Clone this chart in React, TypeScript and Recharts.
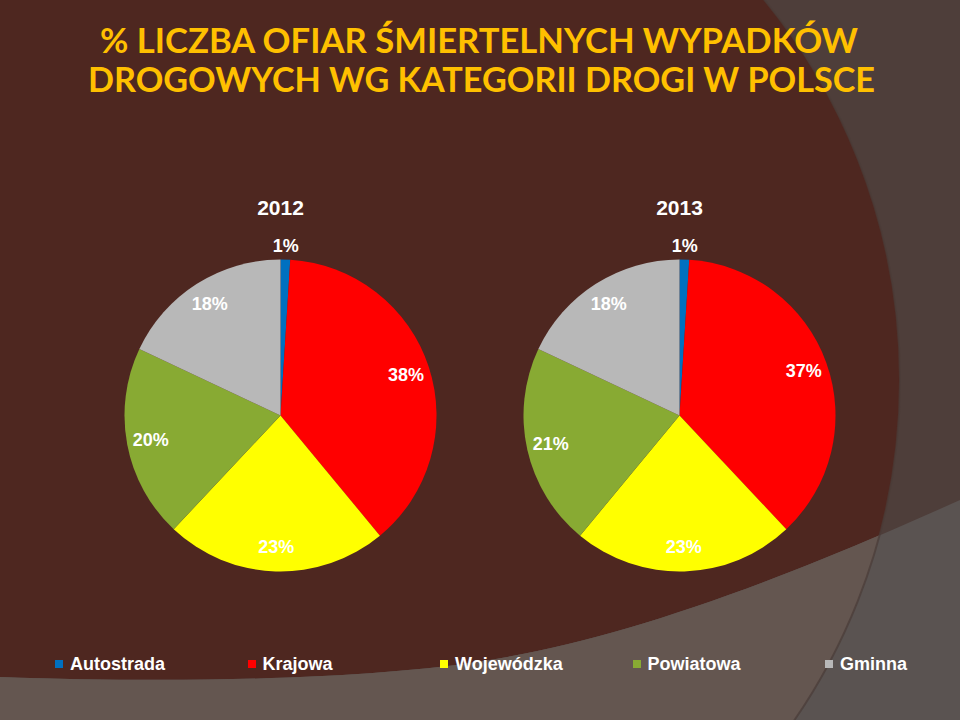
import React from 'react';
import { PieChart, Pie, Cell, Legend } from 'recharts';

const categories = ['Autostrada', 'Krajowa', 'Wojewódzka', 'Powiatowa', 'Gminna'];
const values2012 = [1, 38, 23, 20, 18];
const values2013 = [1, 37, 23, 21, 18];
const years = ['2012', '2013'];
const colors = ['#0070C0', '#FF0000', '#FFFF00', '#88AA33', '#B8B8B8'];
const titleLines = ['% LICZBA OFIAR ŚMIERTELNYCH WYPADKÓW', 'DROGOWYCH WG KATEGORII DROGI W POLSCE'];

const data2012 = categories.map((name, i) => ({ name, value: values2012[i] }));
const data2013 = categories.map((name, i) => ({ name, value: values2013[i] }));

const RAD = Math.PI / 180;
const FONT = '"Liberation Sans", Arial, sans-serif';

const renderLabel = (p: any) => {
  const { cx, cy, midAngle, outerRadius, value } = p;
  const small = value < 5;
  const r = small ? outerRadius + 14 : outerRadius - 24;
  const x = cx + r * Math.cos(-midAngle * RAD);
  const y = cy + r * Math.sin(-midAngle * RAD);
  return (
    <text x={x} y={y} fill="#FFFFFF" textAnchor="middle" dominantBaseline="central"
      fontFamily={FONT} fontWeight="bold" fontSize={18}>
      {`${value}%`}
    </text>
  );
};

const renderLegend = () => (
  <div style={{ position: 'relative', width: 960, height: 30 }}>
    {categories.map((c, i) => (
      <div key={c} style={{ position: 'absolute', left: 55 + i * 192.5, top: 0, height: 24, display: 'flex', alignItems: 'center' }}>
        <div style={{ width: 8, height: 8, background: colors[i], marginRight: 7 }} />
        <span style={{ color: '#FFFFFF', fontFamily: FONT, fontWeight: 'bold', fontSize: 18, whiteSpace: 'nowrap' }}>{c}</span>
      </div>
    ))}
  </div>
);

const bottomCurve = 'M0,677 C200,684 380,678 490,660 C620,638 760,590 960,500';

export default function App() {
  return (
    <div style={{ position: 'absolute', left: 0, top: 0, width: 960, height: 720, overflow: 'hidden' }}>
      <svg width={960} height={720} style={{ position: 'absolute', left: 0, top: 0 }}>
        <defs>
          <clipPath id="bigCircle">
            <circle cx={300} cy={380} r={600} />
          </clipPath>
        </defs>
        <rect x={0} y={0} width={960} height={720} fill="#4E3E3A" />
        <circle cx={300} cy={380} r={600} fill="#4E2720" />
        <path d={`${bottomCurve} L960,720 L0,720 Z`} fill="#5A5351" />
        <path d={`${bottomCurve} L960,720 L0,720 Z`} fill="#645650" clipPath="url(#bigCircle)" />
        <circle cx={300} cy={380} r={600} fill="none" stroke="#4A3C38" strokeWidth={2} opacity={0.7} />
        <text x={100} y={53} fill="#FFC000" fontFamily='"Comic Sans MS", Lato, sans-serif' fontWeight="bold"
          fontSize={35} textLength={758} lengthAdjust="spacingAndGlyphs">{titleLines[0]}</text>
        <text x={88} y={92} fill="#FFC000" fontFamily='"Comic Sans MS", Lato, sans-serif' fontWeight="bold"
          fontSize={35} textLength={787} lengthAdjust="spacingAndGlyphs">{titleLines[1]}</text>
        <text x={280.5} y={215} fill="#FFFFFF" textAnchor="middle" fontFamily={FONT} fontWeight="bold" fontSize={21}>{years[0]}</text>
        <text x={679.5} y={215} fill="#FFFFFF" textAnchor="middle" fontFamily={FONT} fontWeight="bold" fontSize={21}>{years[1]}</text>
      </svg>
      <div style={{ position: 'absolute', left: 0, top: 0 }}>
        <PieChart width={960} height={720} margin={{ top: 0, right: 0, bottom: 0, left: 0 }}>
          <Pie data={data2012} dataKey="value" nameKey="name" cx={280.5} cy={415.5} outerRadius={156}
            startAngle={90} endAngle={-270} stroke="none" label={renderLabel} labelLine={false}
            isAnimationActive={false}>
            {data2012.map((d, i) => <Cell key={d.name} fill={colors[i]} />)}
          </Pie>
          <Pie data={data2013} dataKey="value" nameKey="name" cx={679.5} cy={415.5} outerRadius={156}
            startAngle={90} endAngle={-270} stroke="none" label={renderLabel} labelLine={false}
            isAnimationActive={false}>
            {data2013.map((d, i) => <Cell key={d.name} fill={colors[i]} />)}
          </Pie>
          <Legend content={renderLegend} wrapperStyle={{ position: 'absolute', left: 0, top: 652, width: 960, height: 30 }} />
        </PieChart>
      </div>
    </div>
  );
}
